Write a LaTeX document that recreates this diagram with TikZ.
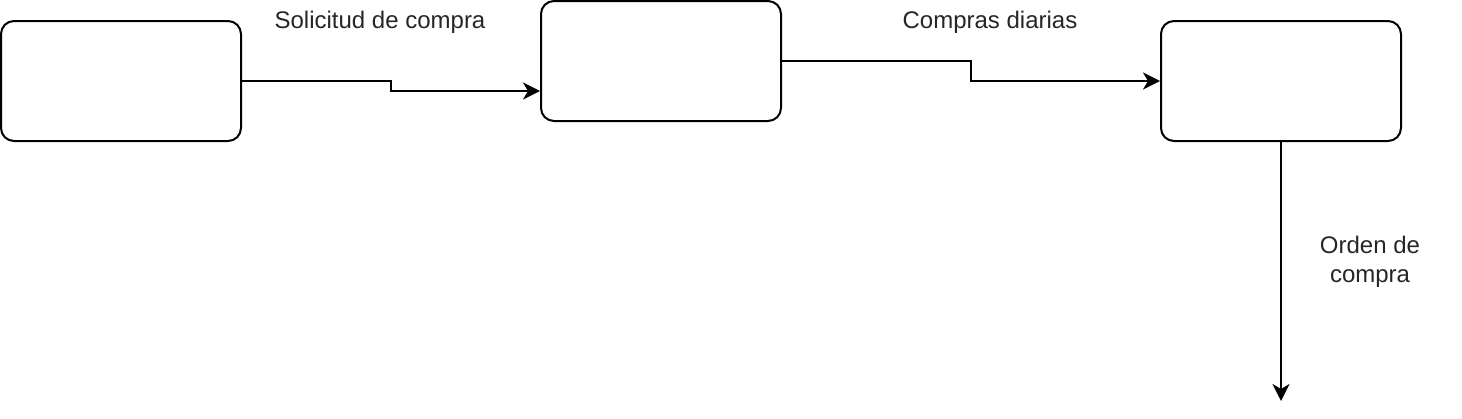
\documentclass[tikz,border=0pt]{standalone}
\usepackage{fontspec}
\setmainfont{Liberation Sans}
\usetikzlibrary{arrows.meta}
\begin{document}
\begin{tikzpicture}[x=1pt,y=-1pt,
  proc/.style={draw=black,line width=2pt,rounded corners=13pt,minimum width=240pt,minimum height=120pt,inner sep=0pt,fill=white},
  flow/.style={draw=black,line width=2pt,-{Stealth[length=17pt,width=17pt,inset=5pt]}},
  lbl/.style={font=\fontsize{24}{29}\selectfont,align=center,text=black!85,inner sep=0pt}]
\useasboundingbox (0,0) rectangle (1462,418);
\node[proc] (a) at (121,81) {};
\node[proc] (b) at (661,61) {};
\node[proc] (c) at (1281,81) {};
\coordinate (e) at (1281,401);
\draw[flow] (a.east) -- (391,81) -- (391,91) -- (b.west |- 0,91);
\draw[flow] (b.east) -- (971,61) -- (971,81) -- (c.west);
\draw[flow] (c.south) -- (e);
\node[lbl] (l1) at (380,22) {Solicitud de compra};
\node[lbl] (l2) at (990,22) {Compras diarias};
\node[lbl] (l3) at (1370,262) {Orden de\\compra};
\end{tikzpicture}
\end{document}
